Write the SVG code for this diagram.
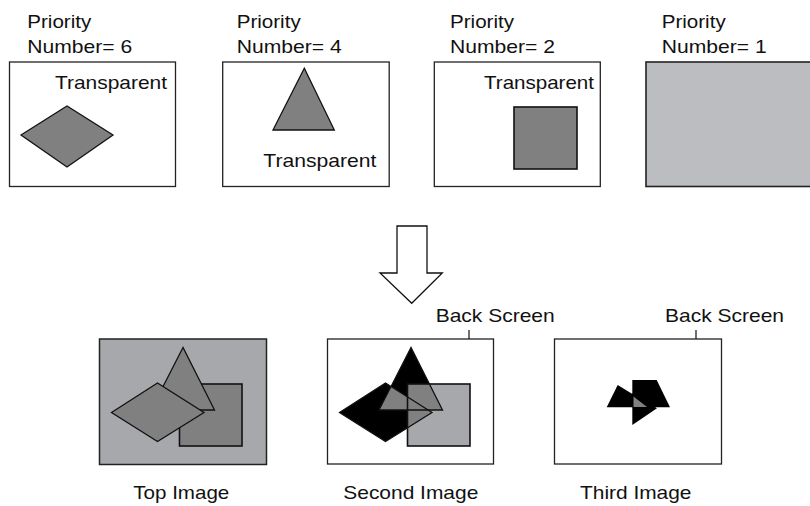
<svg xmlns="http://www.w3.org/2000/svg" width="810" height="506" viewBox="0 0 810 506">
<style>
text{font-family:"Liberation Sans",Arial,sans-serif;font-size:18.5px;fill:#111}
.box{fill:#fff;stroke:#222;stroke-width:1.3}
.shape{fill:#808080;stroke:#111;stroke-width:1.3;stroke-linejoin:miter}
.line{stroke:#222;stroke-width:1.3;fill:none}
.blk{fill:#000}
.gry{fill:#808080}
.outl{fill:none;stroke:#111;stroke-width:1.3}
</style>
<defs>
<polygon id="tri" points="83.5,8.5 51.5,71 115,71"/>
<polygon id="dia" points="12,73.5 58,44 104.5,73.5 58,102.5"/>
<rect id="sq" x="80" y="45" width="62.5" height="62"/>
<clipPath id="cT"><use href="#tri"/></clipPath>
<clipPath id="cD"><use href="#dia"/></clipPath>
</defs>

<g id="layer6">
<text x="27.3" y="28.3" textLength="64" lengthAdjust="spacingAndGlyphs">Priority</text>
<text x="27.3" y="52.7" textLength="105" lengthAdjust="spacingAndGlyphs">Number= 6</text>
<rect class="box" x="9.5" y="62" width="166" height="124.5"/>
<text x="55" y="89.3" textLength="112" lengthAdjust="spacingAndGlyphs">Transparent</text>
<polygon class="shape" points="21,135 67,106 113,135 67,167"/>
</g>

<g id="layer4">
<text x="236.7" y="28.3" textLength="64" lengthAdjust="spacingAndGlyphs">Priority</text>
<text x="236.7" y="52.7" textLength="105" lengthAdjust="spacingAndGlyphs">Number= 4</text>
<rect class="box" x="222.7" y="62" width="166.5" height="124.5"/>
<polygon class="shape" points="304.3,68.3 273,130 334.3,130"/>
<text x="263.3" y="166.7" textLength="113" lengthAdjust="spacingAndGlyphs">Transparent</text>
</g>

<g id="layer2">
<text x="450" y="28.3" textLength="64" lengthAdjust="spacingAndGlyphs">Priority</text>
<text x="450" y="52.7" textLength="105" lengthAdjust="spacingAndGlyphs">Number= 2</text>
<rect class="box" x="434.3" y="62" width="166" height="124.5"/>
<text x="484" y="89.3" textLength="110" lengthAdjust="spacingAndGlyphs">Transparent</text>
<rect class="shape" x="514" y="107" width="63" height="62" style="stroke-width:1.6"/>
</g>

<g id="layer1">
<text x="661.7" y="28.3" textLength="64" lengthAdjust="spacingAndGlyphs">Priority</text>
<text x="661.7" y="52.7" textLength="105" lengthAdjust="spacingAndGlyphs">Number= 1</text>
<rect x="646" y="62" width="166" height="124.5" fill="#bcbdc1" stroke="#222" stroke-width="1.6"/>
</g>

<g id="connectors">
<polygon points="397,226 427,226 427,273 442.3,273 411.7,303.3 380,273 397,273" fill="#fff" stroke="#111" stroke-width="1.3" stroke-linejoin="miter"/>
<line class="line" x1="469" y1="330" x2="469" y2="360"/>
<line class="line" x1="696" y1="330" x2="696" y2="360.5"/>
</g>

<g id="top-image">
<rect x="99.5" y="339" width="167" height="125.5" fill="#a7a8ac" stroke="#222" stroke-width="1.5"/>
<g transform="translate(99.5,339)">
<use href="#sq" class="shape" style="stroke-width:1.6"/>
<use href="#tri" class="shape"/>
<use href="#dia" class="shape"/>
</g>
<text x="133.3" y="499.3" textLength="96" lengthAdjust="spacingAndGlyphs">Top Image</text>
</g>

<g id="second-image">
<text x="435.7" y="321.7" textLength="119" lengthAdjust="spacingAndGlyphs">Back Screen</text>
<rect class="box" x="327.5" y="339" width="166" height="125"/>
<g transform="translate(327.5,339)">
<use href="#sq" fill="#a7a8ac"/>
<use href="#tri" class="blk"/>
<use href="#dia" class="blk"/>
<use href="#dia" class="gry" clip-path="url(#cT)"/>
<use href="#sq" class="gry" clip-path="url(#cT)"/>
<use href="#sq" class="gry" clip-path="url(#cD)"/>
<use href="#tri" class="outl"/>
<use href="#dia" class="outl"/>
<use href="#sq" class="outl" style="stroke-width:1.6"/>
</g>
<text x="343.3" y="499.3" textLength="135" lengthAdjust="spacingAndGlyphs">Second Image</text>
</g>

<g id="third-image">
<text x="665" y="321.7" textLength="119" lengthAdjust="spacingAndGlyphs">Back Screen</text>
<rect class="box" x="554.5" y="339" width="167" height="125"/>
<polygon class="blk" points="606.7,407.3 617.7,385 634,395 634,407.3"/>
<polygon class="blk" points="632.3,380 656.7,380 670,407.3 632.3,407.3"/>
<polygon class="blk" points="632.3,393 657,408.3 632.3,425"/>
<polygon class="gry" points="633.5,396.5 633.5,407 647,407"/>
<text x="580" y="499.3" textLength="111.5" lengthAdjust="spacingAndGlyphs">Third Image</text>
</g>
</svg>
